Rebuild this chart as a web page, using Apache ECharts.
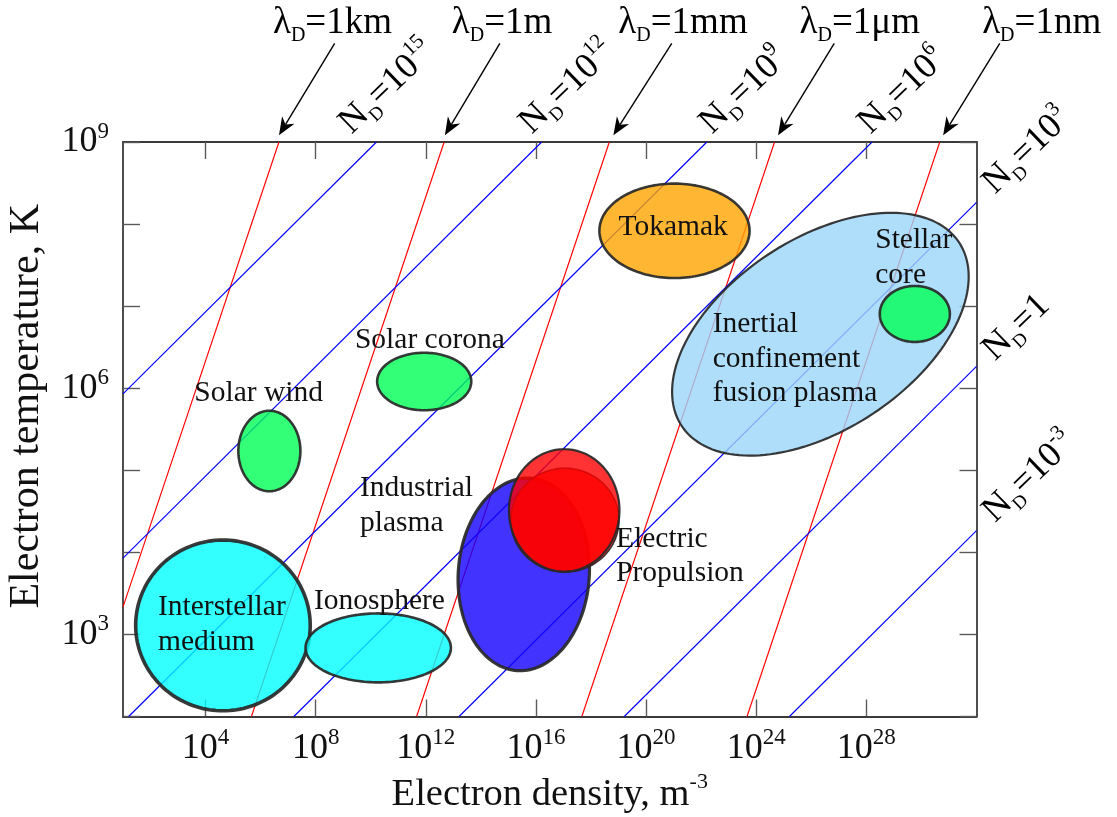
<!DOCTYPE html>
<html>
<head>
<meta charset="utf-8">
<script src="https://cdn.jsdelivr.net/npm/echarts@6/dist/echarts.min.js"></script>
<style>
  html, body { margin: 0; padding: 0; background: #ffffff; }
  #chart { width: 1117px; height: 817px; }
</style>
</head>
<body>
<div id="chart"></div>
<script>
// Axes are in decades: x = log10(electron density / m^-3), y = log10(electron temperature / K)
const densityRange = [1, 32];
const temperatureRange = [2, 9];
const densityLabelTicks = [4, 8, 12, 16, 20, 24, 28];
const temperatureLabelTicks = [3, 6, 9];

// Lines of constant Debye length (endpoints in decades)
const debyeNames = ['1km', '1m', '1mm', '1μm', '1nm'];
const debyeStart = [[1, 3.335], [5.665, 2], [11.665, 2], [17.665, 2], [23.665, 2]];
const debyeEnd = [[6.665, 9], [12.665, 9], [18.665, 9], [24.665, 9], [30.665, 9]];

// Lines of constant plasma parameter N_D (exponent of ten, endpoints in decades)
const plasmaExponents = ['15', '12', '9', '6', '3', '0', '-3'];
const plasmaStart = [[1, 5.93], [1, 3.93], [1.206, 2], [7.206, 2], [13.206, 2], [19.206, 2], [25.206, 2]];
const plasmaEnd = [[10.206, 9], [16.206, 9], [22.206, 9], [28.206, 9], [32, 8.265], [32, 6.265], [32, 4.265]];

// Plasma regimes: centre and half-extent in decades, tilt of the outline in degrees
const regimeLabels = ['Interstellar\nmedium', 'Ionosphere', 'Solar wind', 'Solar corona', 'Industrial\nplasma',
  '', 'Electric\nPropulsion', 'Tokamak', 'Inertial\nconfinement\nfusion plasma', 'Stellar\ncore'];
const regimeCentre = [[4.63, 3.11], [10.27, 2.836], [6.316, 5.235], [11.94, 6.082], [15.556, 3.732],
  [17.05, 4.392], [17.025, 4.512], [21.03, 7.918], [26.33, 6.658], [29.76, 6.905]];
const regimeHalfSpan = [[3.17, 1.04], [2.64, 0.42], [1.127, 0.49], [1.709, 0.35], [2.38, 1.175],
  [1.964, 0.633], [2.007, 0.745], [2.727, 0.575], [6.04, 1.161], [1.273, 0.341]];
const regimeTilt = [0, 0, 0, 0, -4, 0, 0, 0, 33.5, 0];

// ---- styling ----
const SERIF = '"Liberation Serif", "DejaVu Serif", serif';
const INK = '#111111';
const OUTLINE = 'rgba(40,40,40,0.92)';
const regimeStyle = [
  { fill: 'rgba(0,255,255,0.8)', width: 3.6 },
  { fill: 'rgba(0,255,255,0.8)', width: 2.6 },
  { fill: 'rgba(0,255,85,0.8)', width: 2.6 },
  { fill: 'rgba(0,255,85,0.8)', width: 2.6 },
  { fill: 'rgba(20,0,255,0.8)', width: 3.2 },
  { fill: 'rgba(255,0,0,0.8)', width: 1.6 },
  { fill: 'rgba(255,0,0,0.8)', width: 2.2 },
  { fill: 'rgba(255,165,0,0.8)', width: 2.6 },
  { fill: 'rgba(155,214,249,0.8)', width: 2.2 },
  { fill: 'rgba(0,255,85,0.8)', width: 2.6 }
];
// label placement relative to the regime centre (px): first baseline, alignment
const regimeLabelOffset = [[-65, -8], [1.2, -37.1], [-10.7, -48.1], [5.7, -31.3], [-163.8, -75.9],
  null, [51.8, 38.8], [-1.3, 6.2], [-107.7, 0], [-39.6, -63.7]];
const regimeLabelAlign = ['left', 'center', 'center', 'center', 'left', null, 'left', 'center', 'left', 'left'];
const LABEL_SIZE = 29.5;
const LABEL_LEADING = 34.5;

// annotation placement (px) relative to the end of each line
const debyeLabelDx = [-6, 7.7, 9, 25, 42.4];
const debyeArrowStartDx = [55.7, 55.7, 62.4, 59.7, 60];
const debyeArrowTipDx = [0, 0.7, 4, 3.5, 3.4];
const plasmaLabelOffset = [[-23, -5.4], [-8, -5.4], [7, -5.4], [0.3, -5.4], [20.3, -5.7], [20.3, -3], [20.3, -5.3]];
const PLASMA_ANGLE = 44;
const PLASMA_SIZE = 36;

const tickRich = {
  m: { fontFamily: SERIF, fontSize: 36, lineHeight: 44, color: INK },
  s: { fontFamily: SERIF, fontSize: 23, lineHeight: 22, verticalAlign: 'top', color: INK }
};
const powerLabel = v => '{m|10}{s|' + v + '}';

const frameLine = { show: true, onZero: false, lineStyle: { color: '#3a3a3a', width: 1.8 } };
const tickStyle = { color: '#5a5a5a', width: 1.4 };

function lineSeries(start, end, color) {
  return start.map((s, i) => ({
    type: 'line',
    data: [s, end[i]],
    showSymbol: false,
    silent: true,
    z: 1,
    lineStyle: { color: color, width: 1.15 },
    animation: false
  }));
}

function ellipsePolygon(cx, cy, rx, ry, tiltDeg) {
  const t = tiltDeg * Math.PI / 180, c = Math.cos(t), s = Math.sin(t);
  const pts = [];
  const N = 160;
  for (let k = 0; k < N; k++) {
    const a = k / N * Math.PI * 2;
    const ex = rx * Math.cos(a), ey = ry * Math.sin(a);
    pts.push([cx + ex * c - ey * s, cy - (ex * s + ey * c)]);
  }
  return pts;
}

const regimeData = regimeCentre.map((c, i) => [c[0], c[1], regimeHalfSpan[i][0], regimeHalfSpan[i][1], regimeTilt[i], i]);

const regimeSeries = {
  type: 'custom',
  z: 2,
  silent: true,
  clip: false,
  animation: false,
  encode: { x: 0, y: 1 },
  data: regimeData,
  renderItem: (params, api) => {
    const i = api.value(5);
    const p = api.coord([api.value(0), api.value(1)]);
    const rx = api.size([api.value(2), 0])[0];
    const ry = api.size([0, api.value(3)])[1];
    const st = regimeStyle[i];
    return {
      type: 'polygon',
      shape: { points: ellipsePolygon(p[0], p[1], rx, ry, api.value(4)) },
      style: { fill: st.fill, stroke: OUTLINE, lineWidth: st.width }
    };
  }
};

const regimeLabelSeries = {
  type: 'custom',
  z: 4,
  silent: true,
  clip: false,
  animation: false,
  encode: { x: 0, y: 1 },
  data: regimeData,
  renderItem: (params, api) => {
    const i = api.value(5);
    if (!regimeLabels[i]) return { type: 'group', children: [] };
    const p = api.coord([api.value(0), api.value(1)]);
    const off = regimeLabelOffset[i];
    const lines = regimeLabels[i].split('\n');
    return {
      type: 'group',
      children: lines.map((txt, k) => ({
        type: 'text',
        x: p[0] + off[0],
        y: p[1] + off[1] + k * LABEL_LEADING - 0.3375 * LABEL_SIZE,
        style: {
          text: txt,
          fontFamily: SERIF,
          fontSize: LABEL_SIZE,
          fill: INK,
          align: regimeLabelAlign[i],
          verticalAlign: 'middle'
        }
      }))
    };
  }
};

const DEBYE_SIZE = 37;
const debyeRich = {
  g: { fontFamily: SERIF, fontSize: DEBYE_SIZE, lineHeight: 46, color: INK },
  d: { fontFamily: SERIF, fontSize: 20, lineHeight: 18, verticalAlign: 'bottom', color: INK }
};

const debyeAnnotationSeries = {
  type: 'custom',
  z: 4,
  silent: true,
  clip: false,
  animation: false,
  encode: { x: 0, y: 1 },
  data: debyeEnd.map((e, i) => [e[0], e[1], i]),
  renderItem: (params, api) => {
    const i = api.value(2);
    const p = api.coord([api.value(0), api.value(1)]);
    const tip = [p[0] + debyeArrowTipDx[i], p[1] - 6.7];
    const start = [p[0] + debyeArrowStartDx[i], p[1] - 98.7];
    const dx = tip[0] - start[0], dy = tip[1] - start[1];
    const len = Math.hypot(dx, dy);
    const ux = dx / len, uy = dy / len, nx = -uy, ny = ux;
    const headLen = 18, headHalf = 7.2, notch = 12.5;
    const head = [
      tip,
      [tip[0] - ux * headLen + nx * headHalf, tip[1] - uy * headLen + ny * headHalf],
      [tip[0] - ux * notch, tip[1] - uy * notch],
      [tip[0] - ux * headLen - nx * headHalf, tip[1] - uy * headLen - ny * headHalf]
    ];
    return {
      type: 'group',
      children: [
        {
          type: 'line',
          shape: { x1: start[0], y1: start[1], x2: tip[0] - ux * notch, y2: tip[1] - uy * notch },
          style: { stroke: '#000', lineWidth: 1.4 }
        },
        { type: 'polygon', shape: { points: head }, style: { fill: '#000' } },
        {
          type: 'text',
          x: p[0] + debyeLabelDx[i],
          y: p[1] - 106.7 - 0.3375 * DEBYE_SIZE,
          style: {
            text: '{g|λ}{d|D}{g|=' + debyeNames[i] + '}',
            rich: debyeRich,
            align: 'left',
            verticalAlign: 'middle'
          }
        }
      ]
    };
  }
};

const plasmaRich = {
  g: { fontFamily: SERIF, fontSize: PLASMA_SIZE, lineHeight: 44, color: '#0000ff' },
  d: { fontFamily: SERIF, fontSize: 19, lineHeight: 17, verticalAlign: 'bottom', color: '#0000ff' },
  s: { fontFamily: SERIF, fontSize: 21, lineHeight: 20, verticalAlign: 'top', color: '#0000ff' }
};

const plasmaAnnotationSeries = {
  type: 'custom',
  z: 4,
  silent: true,
  clip: false,
  animation: false,
  encode: { x: 0, y: 1 },
  data: plasmaEnd.map((e, i) => [e[0], e[1], i]),
  renderItem: (params, api) => {
    const i = api.value(2);
    const p = api.coord([api.value(0), api.value(1)]);
    const exp = plasmaExponents[i];
    const text = exp === '0' ? '{g|N}{d|D}{g|=1}' : '{g|N}{d|D}{g|=10}{s|' + exp + '}';
    const th = PLASMA_ANGLE * Math.PI / 180;
    const bx = p[0] + plasmaLabelOffset[i][0];
    const by = p[1] + plasmaLabelOffset[i][1];
    const mid = 0.3375 * PLASMA_SIZE;
    return {
      type: 'text',
      x: bx - mid * Math.sin(th),
      y: by - mid * Math.cos(th),
      rotation: th,
      style: { text: text, rich: plasmaRich, align: 'left', verticalAlign: 'middle' }
    };
  }
};

const chart = echarts.init(document.getElementById('chart'), null, { renderer: 'canvas' });

chart.setOption({
  animation: false,
  backgroundColor: '#ffffff',
  grid: { left: 123, top: 142, width: 853.5, height: 574.5, outerBoundsMode: 'none', containLabel: false },
  xAxis: [
    {
      type: 'value', position: 'bottom',
      min: densityRange[0], max: densityRange[1],
      axisLine: frameLine,
      axisTick: { show: true, inside: true, length: 17, customValues: densityLabelTicks, lineStyle: tickStyle },
      axisLabel: { show: true, customValues: densityLabelTicks, formatter: powerLabel, rich: tickRich, margin: 10 },
      splitLine: { show: false },
      name: '{m|Electron density, m}{s|-3}',
      nameLocation: 'middle',
      nameGap: 55,
      nameTextStyle: {
        rich: {
          m: { fontFamily: SERIF, fontSize: 38.5, lineHeight: 46, color: INK },
          s: { fontFamily: SERIF, fontSize: 22, lineHeight: 21, verticalAlign: 'top', color: INK }
        }
      }
    },
    {
      type: 'value', position: 'top',
      min: densityRange[0], max: densityRange[1],
      axisLine: frameLine,
      axisTick: { show: true, inside: true, length: 17, customValues: densityLabelTicks, lineStyle: tickStyle },
      axisLabel: { show: false },
      splitLine: { show: false }
    }
  ],
  yAxis: [
    {
      type: 'value', position: 'left',
      min: temperatureRange[0], max: temperatureRange[1], interval: 1,
      axisLine: frameLine,
      axisTick: { show: true, inside: true, length: 17, lineStyle: tickStyle },
      axisLabel: { show: true, customValues: temperatureLabelTicks, formatter: powerLabel, rich: tickRich, margin: 14 },
      splitLine: { show: false },
      name: 'Electron temperature, K',
      nameLocation: 'middle',
      nameRotate: 90,
      nameGap: 72,
      nameTextStyle: { fontFamily: SERIF, fontSize: 42, lineHeight: 48, color: INK, padding: [0, 0, 0, 46] }
    },
    {
      type: 'value', position: 'right',
      min: temperatureRange[0], max: temperatureRange[1], interval: 1,
      axisLine: frameLine,
      axisTick: { show: true, inside: true, length: 17, lineStyle: tickStyle },
      axisLabel: { show: false },
      splitLine: { show: false }
    }
  ],
  series: [
    ...lineSeries(debyeStart, debyeEnd, '#ff0000'),
    ...lineSeries(plasmaStart, plasmaEnd, '#0000ff'),
    regimeSeries,
    regimeLabelSeries,
    debyeAnnotationSeries,
    plasmaAnnotationSeries
  ]
});
</script>
</body>
</html>
